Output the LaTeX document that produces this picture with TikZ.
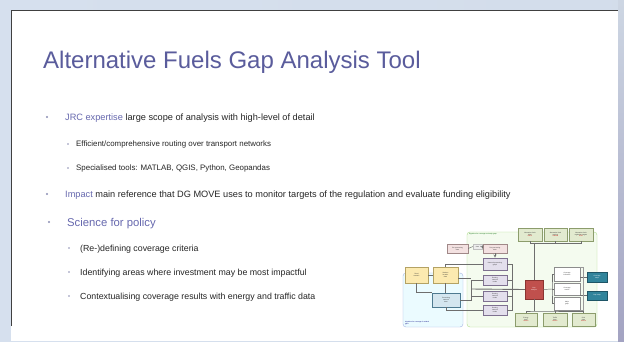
\documentclass[tikz,border=0pt]{standalone}
\usepackage{fontspec}
\setmainfont{Liberation Sans}
\definecolor{titlec}{HTML}{5A5C9C}
\definecolor{accent}{HTML}{6668AE}
\definecolor{bul}{HTML}{8C8EB4}
\definecolor{txt}{HTML}{262626}
\definecolor{bgblue}{HTML}{D6E0EE}
\definecolor{gfill}{HTML}{E2EACF}
\definecolor{gdraw}{HTML}{8C9C6C}
\definecolor{pfill}{HTML}{F3E1E1}
\definecolor{pdraw}{HTML}{A08888}
\definecolor{lfill}{HTML}{E3DFEC}
\definecolor{ldraw}{HTML}{7E7090}
\definecolor{yfill}{HTML}{FCEAB0}
\definecolor{ydraw}{HTML}{B4A264}
\definecolor{bfill}{HTML}{D4E6EF}
\definecolor{bdraw}{HTML}{4E7A90}
\definecolor{rfill}{HTML}{C0504D}
\definecolor{rdraw}{HTML}{8A3431}
\definecolor{tfill}{HTML}{31849B}
\definecolor{tdraw}{HTML}{1E5566}
\definecolor{lineg}{HTML}{6E6E6E}
\definecolor{redtxt}{HTML}{C00000}
\newcommand{\tinyf}{\fontsize{1.6}{1.9}\selectfont}
\tikzset{
  lvone/.style={anchor=base west, inner sep=0, text=txt, font=\fontsize{9.2}{11}\selectfont},
  lvtwo/.style={anchor=base west, inner sep=0, text=txt, font=\fontsize{7.9}{9}\selectfont},
  lvtwob/.style={anchor=base west, inner sep=0, text=txt, font=\fontsize{8.8}{10}\selectfont},
  dbox/.style={rectangle, line width=0.4pt, inner sep=0.3pt, align=center, font=\tinyf, text=black!80},
  gbox/.style={dbox, fill=gfill, draw=gdraw},
  pbox/.style={dbox, fill=pfill, draw=pdraw},
  lbox/.style={dbox, fill=lfill, draw=ldraw, line width=0.6pt},
  ybox/.style={dbox, fill=yfill, draw=ydraw},
  bbox/.style={dbox, fill=bfill, draw=bdraw, line width=0.6pt},
  rbox/.style={dbox, fill=rfill, draw=rdraw, text=white},
  wbox/.style={dbox, fill=white, draw=black!45},
  tbox/.style={dbox, fill=tfill, draw=tdraw, text=white},
  conn/.style={draw=lineg, line width=0.45pt},
  bdot/.style={circle, fill=bul, inner sep=0, minimum size=#1},
}
\begin{document}
\begin{tikzpicture}[x=1pt,y=-1pt]
\useasboundingbox (0,0) rectangle (624,341);
% background
\fill[left color=bgblue, right color=bgblue!85!black!10!bgblue] (0,0) rectangle (624,341);
\fill[top color=bgblue!90!gray, bottom color=gray!80!blue!60] (618,0) rectangle (624,341);
\fill[white] (11,10) rectangle (618,341);
\draw[black!75, line width=1pt] (11,326) -- (11,10.5) -- (618,10.5);
% title
\node[anchor=base west, inner sep=0, text=titlec, font=\fontsize{24}{28}\selectfont] (title) at (43,68) {Alternative Fuels Gap Analysis Tool};
% bullets
\node[bdot=2.4] (b1) at (47,117) {};
\node[lvone] (l1) at (65,120.2) {\textcolor{accent}{JRC expertise} large scope of analysis with high-level of detail};
\node[bdot=1.9] (b2) at (68,144) {};
\node[lvtwo] (l2) at (76,146.8) {Efficient/comprehensive routing over transport networks};
\node[bdot=1.9] (b3) at (68,168) {};
\node[lvtwo] (l3) at (76,170.8) {Specialised tools: MATLAB, QGIS, Python, Geopandas};
\node[bdot=2.4] (b4) at (47,194) {};
\node[lvone] (l4) at (65,197.3) {\textcolor{accent}{Impact} main reference that DG MOVE uses to monitor targets of the regulation and evaluate funding eligibility};
\node[bdot=2.4] (b5) at (49,222) {};
\node[anchor=base west, inner sep=0, text=accent, font=\fontsize{11.3}{13}\selectfont] (l5) at (67,226) {Science for policy};
\node[bdot=1.9] (b6) at (69,248) {};
\node[lvtwob] (l6) at (80,251.1) {(Re-)defining coverage criteria};
\node[bdot=1.9] (b7) at (69,272) {};
\node[lvtwob] (l7) at (80,275.1) {Identifying areas where investment may be most impactful};
\node[bdot=1.9] (b8) at (69,296) {};
\node[lvtwob] (l8) at (80,299.1) {Contextualising coverage results with energy and traffic data};
% ---------- diagram ----------
\draw[rounded corners=3pt, fill=blue!20!cyan!8, draw=cyan!40!blue!35, line width=0.4pt] (403,273) rectangle (463,327);
\draw[rounded corners=3pt, fill=yellow!25!green!6, draw=green!40!olive!45, line width=0.4pt] (467,232) rectangle (597,327);
\node[anchor=north west, inner sep=0, font=\tinyf, text=green!40!black] (glab) at (469,233.5) {Algorithm for coverage and major gaps};
\node[anchor=south west, inner sep=0, font=\tinyf, text=blue!50!black, align=left] (blab) at (405,325) {Algorithm for coverage of residual\\gaps};
% top green boxes
\node[gbox, minimum width=24, minimum height=13, text width=21] (t1) at (530,234.5) {Alternative fuels\\data\\\textcolor{redtxt}{EAFO}};
\node[gbox, minimum width=23, minimum height=13, text width=20] (t2) at (555.5,234.5) {Alternative fuels\\stations\\\textcolor{redtxt}{national}};
\node[gbox, minimum width=24, minimum height=13, text width=21] (t3) at (581,234.5) {Alternative fuels\\regulation targets\\\textcolor{redtxt}{AFIR}};
% pink
\node[pbox, minimum width=21, minimum height=9, text width=18] (p1) at (457.5,248.5) {Pre-processing\\data};
\node[dbox, fill=black!7, draw=black!25, line width=0.2pt, minimum width=9, minimum height=5] (pl) at (477.5,246.5) {data};
\node[pbox, minimum width=24, minimum height=9, text width=21] (p2) at (495,248.5) {Pre-processing\\data};
% lavender
\node[lbox, minimum width=24, minimum height=12, text width=21] (v1) at (495,264) {Network processing\\graph};
\node[lbox, minimum width=24, minimum height=10, text width=21] (v2) at (495,280) {Routing\\network\\nodes};
\node[lbox, minimum width=24, minimum height=10, text width=21] (v3) at (495,296) {Routing\\network\\nodes};
\node[lbox, minimum width=24, minimum height=10, text width=21] (v4) at (495,310) {Routing\\network\\nodes};
% yellow
\node[ybox, minimum width=23, minimum height=16, text width=20] (y1) at (416.5,275) {Road\\network};
\node[ybox, minimum width=25, minimum height=16, text width=22] (y2) at (445.5,275) {Stations\\location\\data};
% blue
\node[bbox, minimum width=28, minimum height=14, text width=25] (bl) at (446,300) {Processing\\network\\data};
% red
\node[rbox, minimum width=18, minimum height=19, text width=15] (rd) at (534,289.5) {Gap\\analysis};
% white
\node[wbox, minimum width=26, minimum height=14, text width=23] (w1) at (567,274) {Coverage\\indicators};
\node[wbox, minimum width=26, minimum height=12, text width=23] (w2) at (567,289) {Coverage\\results};
\node[wbox, minimum width=26, minimum height=13, text width=23] (w3) at (567,303.5) {Major\\gaps};
% teal
\node[tbox, minimum width=20, minimum height=10, text width=17] (k1) at (597,277) {Coverage\\maps};
\node[tbox, minimum width=20, minimum height=9, text width=17] (k2) at (597,295.5) {Gap maps};
% bottom green
\node[gbox, minimum width=22, minimum height=13, text width=19] (g1) at (526,319.5) {Energy\\data\\\textcolor{redtxt}{source}};
\node[gbox, minimum width=24, minimum height=13, text width=21] (g2) at (555,319.5) {Traffic\\data\\\textcolor{redtxt}{source}};
\node[gbox, minimum width=23, minimum height=13, text width=20] (g3) at (583.5,319.5) {Grid\\data\\\textcolor{redtxt}{source}};
% coordinates
\coordinate (topbar) at (534,243.5);
\coordinate (botbar) at (534,311);
\coordinate (mainL) at (471,289);
\coordinate (rightV) at (512,289);
\coordinate (brk) at (552,289);
% connectors
\draw[conn] (t1.south) |- (topbar) -| (t3.south);
\draw[conn] (t2.south) -- (t2.south |- topbar);
\draw[conn] (topbar) -- (rd.north);
\draw[conn] (rd.south) -- (botbar);
\draw[conn] (g1.north) |- (botbar) -| (g3.north);
\draw[conn] (g2.north) -- (g2.north |- botbar);
\draw[conn, line width=0.9pt] (mainL) -- (rd.west);
\draw[conn] (rd.east) -- (brk);
\draw[conn] (w1.west) -| (brk) |- (w3.west);
\draw[conn] (brk) -- (w2.west);
\draw[conn] (w1.east |- k1.west) -- (k1.west);
\draw[conn] (w2.east |- k2.west) -- (k2.west);
\draw[conn, line width=0.25pt, draw=black!40] (w1.north east) -- ++(3,0) |- (w3.south east);
\draw[conn] (p1.east) -- (pl.west);
\draw[conn, ->, >=stealth] (pl.east) -- (p2.west);
\draw[conn, ->, >=stealth] (p2.south) -- (v1.north);
\draw[conn] (v1.west) -| (y2.north);
\draw[conn] (v1.east) -| (rightV);
\draw[conn] (v2.east) -- (v2.east -| rightV);
\draw[conn] (v3.east) -- (v3.east -| rightV);
\draw[conn] (v4.east) -| (rightV);
\draw[conn] (v2.west) -| (mainL);
\draw[conn] (v3.west) -- (v3.west -| mainL);
\draw[conn] (mainL) |- (bl.east);
\draw[conn] (y1.east) -- (y2.west);
\draw[conn] (y1.south) |- (bl.north west);
\draw[conn] (y2.south) -- (bl.north -| y2.south);
\draw[conn] ([yshift=-3pt]y2.east) -- ([yshift=-3pt]y2.east -| mainL);
\draw[conn] (bl.south) |- (v4.west);
\end{tikzpicture}
\end{document}
